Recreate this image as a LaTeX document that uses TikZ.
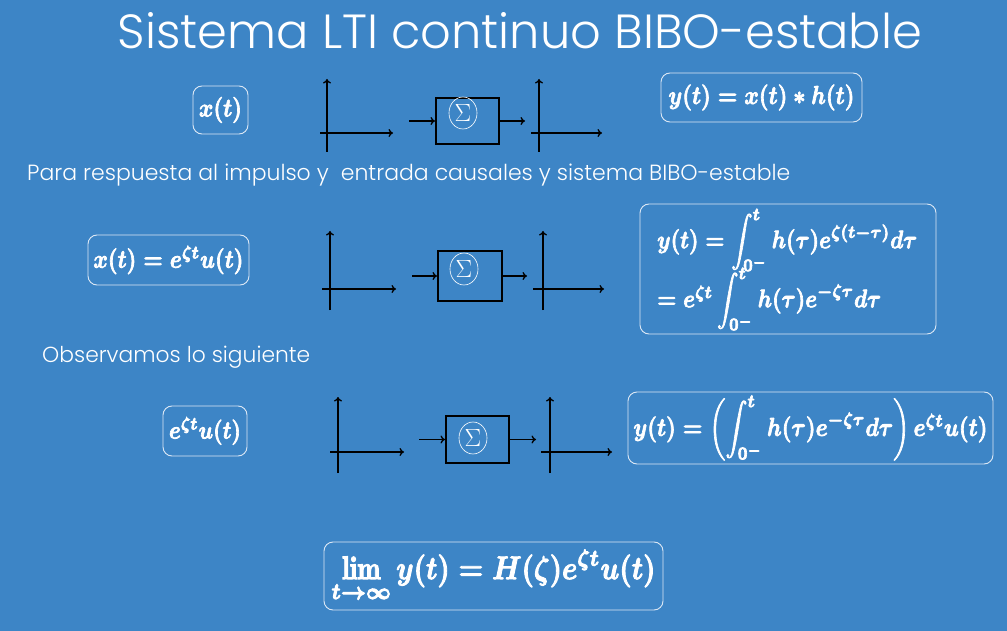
\documentclass[tikz,border=0pt]{standalone}
\usepackage{amsmath}
\usepackage{fontspec}
\usepackage{graphicx}
\newfontfamily\slidefont{Poppins Light}
\usetikzlibrary{arrows.meta,shapes.geometric}
\definecolor{bg}{HTML}{3D85C6}
\definecolor{frame}{HTML}{DCE8F5}
% heavier rendering of a formula: fill and stroke the glyphs
\newcommand\heavyeq[1]{\mbox{\special{pdf:literal direct 2 Tr 0.3 w}#1\special{pdf:literal direct 0 Tr}}}
\newcommand\fiteq[2]{\scalebox{1}[1.18]{\resizebox{#1}{!}{\heavyeq{#2}}}}
\begin{document}
\begin{tikzpicture}[x=1pt,y=-1pt,
  fbox/.style={draw=frame, line width=0.9pt, rounded corners=9pt, inner sep=0pt, text=white},
  eqtext/.style={text=white, inner sep=0pt},
  axis/.style={draw=black, line width=1.3pt, -{To[length=4.5pt,width=8pt]}},
  conn/.style={draw=black, line width=1.3pt, -{To[length=4.5pt,width=8pt]}},
  sysbox/.style={draw=black, line width=2pt, inner sep=0pt},
  sig/.style={ellipse, draw=white, line width=0.6pt, inner sep=0pt, minimum width=28pt, minimum height=32pt, text=white, font=\fontsize{25}{30}\selectfont},
  slidetext/.style={text=white, inner sep=0pt, font=\slidefont}
]
\fill[bg] (0,0) rectangle (1007,631);
\useasboundingbox (0,0) rectangle (1007,631);

% title and texts
\node[slidetext] (title) at (520,31) {\resizebox{804pt}{!}{Sistema LTI continuo BIBO-estable}};
\node[slidetext, anchor=west] (t1) at (27,175) {\resizebox{763pt}{!}{Para respuesta al impulso y\ \ entrada causales y sistema BIBO-estable}};
\node[slidetext, anchor=west] (t2) at (42,357) {\resizebox{268pt}{!}{Observamos lo siguiente}};

% ---------- row 1 ----------
\node[fbox, minimum width=55pt, minimum height=48pt] (xa) at (220.5,110)
  {\fiteq{43pt}{$\boldsymbol{x(t)}$}};
\node[fbox, minimum width=201pt, minimum height=49pt] (ya) at (761.5,97.5)
  {\fiteq{186pt}{$\boldsymbol{y(t) = x(t) \ast h(t)}$}};
\draw[axis] (327,152) -- (327,79);
\draw[axis] (320,133) -- (393,133);
\draw[axis] (539,152) -- (539,79);
\draw[axis] (531,133) -- (602,133);
\node[sysbox, minimum width=63pt, minimum height=46pt] (sa) at (467.5,121) {};
\node[sig] (ga) at (463,113) {$\Sigma$};
\coordinate (ina) at (409,121);
\coordinate (outa) at (525,121);
\draw[conn] (ina) -- (sa.west);
\draw[conn] (sa.east) -- (outa);

% ---------- row 2 ----------
\node[fbox, minimum width=161pt, minimum height=50pt] (xb) at (168.5,260)
  {\fiteq{150pt}{$\boldsymbol{x(t) = e^{\zeta t}u(t)}$}};
\node[fbox, minimum width=296pt, minimum height=130pt] (yb) at (788,269) {};
\node[eqtext, anchor=west] (yb1) at (657,240)
  {\fiteq{260pt}{$\boldsymbol{y(t) = \displaystyle\int_{0^-}^{t} h(\tau)e^{\zeta(t-\tau)}d\tau}$}};
\node[eqtext, anchor=west] (yb2) at (657,299)
  {\fiteq{224pt}{$\boldsymbol{= e^{\zeta t}\displaystyle\int_{0^-}^{t} h(\tau)e^{-\zeta\tau}d\tau}$}};
\draw[axis] (330,310) -- (330,231);
\draw[axis] (322,289) -- (396,289);
\draw[axis] (543,310) -- (543,231);
\draw[axis] (533,289) -- (604,289);
\node[sysbox, minimum width=64pt, minimum height=50pt] (sb) at (470,276) {};
\node[sig] (gb) at (464,269) {$\Sigma$};
\coordinate (inb) at (412,276);
\coordinate (outb) at (527,276);
\draw[conn] (inb) -- (sb.west);
\draw[conn] (sb.east) -- (outb);

% ---------- row 3 ----------
\node[fbox, minimum width=84pt, minimum height=50pt] (xc) at (205,431)
  {\fiteq{72pt}{$\boldsymbol{e^{\zeta t}u(t)}$}};
\node[fbox, minimum width=365pt, minimum height=72pt] (yc) at (810.5,428)
  {\fiteq{354pt}{$\boldsymbol{y(t) = \left(\displaystyle\int_{0^-}^{t} h(\tau)e^{-\zeta\tau}d\tau\right) e^{\zeta t}u(t)}$}};
\draw[axis] (338,473) -- (338,397);
\draw[axis] (330,452) -- (404,452);
\draw[axis] (550,473) -- (550,397);
\draw[axis] (541,452) -- (612,452);
\node[sysbox, minimum width=63pt, minimum height=47pt] (sc) at (477.5,439.5) {};
\node[sig] (gc) at (473,438) {$\Sigma$};
\coordinate (inc) at (419,439.5);
\coordinate (outc) at (536,439.5);
\draw[conn] (inc) -- (sc.west);
\draw[conn] (sc.east) -- (outc);

% ---------- bottom ----------
\node[fbox, minimum width=339pt, minimum height=68pt] (lim) at (493.5,576)
  {\fiteq{324pt}{$\boldsymbol{\displaystyle\lim_{t\to\infty} y(t) = H(\zeta)e^{\zeta t}u(t)}$}};
\end{tikzpicture}
\end{document}
